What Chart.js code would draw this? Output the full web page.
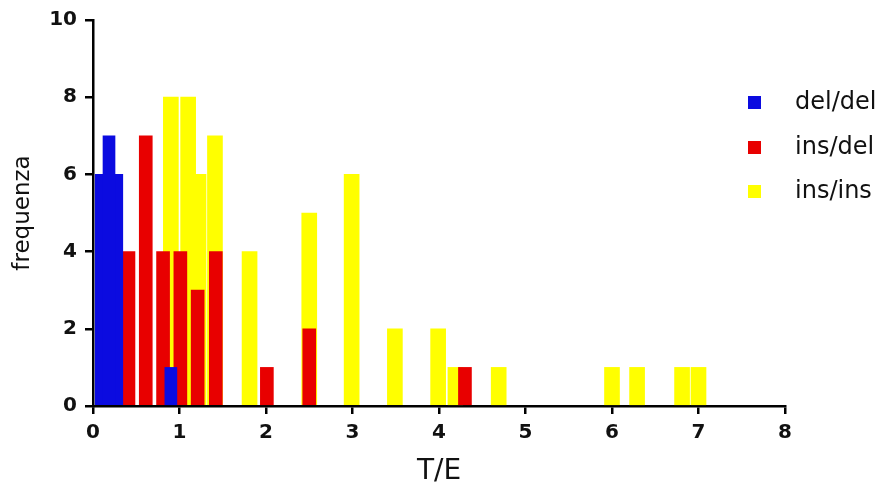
<!DOCTYPE html>
<html>
<head>
<meta charset="utf-8">
<script src="https://cdn.jsdelivr.net/npm/chart.js@4.4.1/dist/chart.umd.min.js"></script>
<style>
  html, body { margin: 0; padding: 0; background: #ffffff; }
  #c { display: block; }
</style>
</head>
<body>
<canvas id="c" width="883" height="490"></canvas>
<script>
// ---- data (T/E position -> frequenza) ----
const seriesNames = ['del/del', 'ins/del', 'ins/ins'];

const delDelX = [0.095, 0.275, 0.185, 0.9];
const delDelY = [6, 6, 7, 1];

const insDelX = [0.41, 0.61, 0.81, 1.01, 1.21, 1.42, 2.01, 2.5, 4.3];
const insDelY = [4, 7, 4, 4, 3, 4, 1, 2, 1];

const insInsX = [0.9, 1.1, 1.22, 1.41, 1.81, 2.5, 2.99, 3.49, 3.99, 4.19, 4.69, 6.0, 6.29, 6.81, 7.0];
const insInsY = [8, 8, 6, 7, 4, 5, 6, 2, 2, 1, 1, 1, 1, 1, 1];

const xTicks = [0, 1, 2, 3, 4, 5, 6, 7, 8];
const yTicks = [0, 2, 4, 6, 8, 10];

const BLUE = '#0b0be0';
const RED = '#e80000';
const YELLOW = '#ffff00';

function pts(xs, ys) { return xs.map((x, i) => ({ x: x, y: ys[i] })); }

const legendPlugin = {
  id: 'customLegend',
  afterDraw(chart) {
    const ctx = chart.ctx;
    const rows = [103, 148, 192];
    ctx.save();
    chart.data.datasets.forEach((ds, i) => {
      ctx.fillStyle = ds.backgroundColor;
      ctx.fillRect(748, rows[i] - 7, 13, 13);
      ctx.fillStyle = '#111111';
      ctx.font = '24px "DejaVu Sans"';
      ctx.textBaseline = 'middle';
      ctx.textAlign = 'left';
      ctx.fillText(ds.label, 795, rows[i]);
    });
    ctx.restore();
  }
};

const tickFont = { family: '"DejaVu Sans"', size: 20, weight: 'bold' };

new Chart(document.getElementById('c'), {
  type: 'bar',
  data: {
    datasets: [
      { label: seriesNames[0], data: pts(delDelX, delDelY), backgroundColor: BLUE, barThickness: 12 },
      { label: seriesNames[1], data: pts(insDelX, insDelY), backgroundColor: RED, barThickness: 13 },
      { label: seriesNames[2], data: pts(insInsX, insInsY), backgroundColor: YELLOW, barThickness: 15 }
    ]
  },
  options: {
    responsive: false,
    animation: false,
    datasets: { bar: { grouped: false, borderWidth: 0 } },
    layout: { padding: { top: 18, right: 98, left: 0, bottom: 0 } },
    plugins: { legend: { display: false }, tooltip: { enabled: false } },
    scales: {
      x: {
        type: 'linear',
        min: 0, max: 8,
        offset: false,
        afterBuildTicks(s) { s.ticks = xTicks.map(v => ({ value: v })); },
        ticks: { color: '#111111', font: tickFont, padding: 7, maxRotation: 0, autoSkip: false },
        grid: { offset: false, drawOnChartArea: false, drawTicks: true, tickLength: 8, color: '#000', lineWidth: 2.5 },
        border: { color: '#000', width: 2.5 },
        title: { display: true, text: 'T/E', color: '#111111', font: { family: '"DejaVu Sans"', size: 28 }, padding: { top: 0, bottom: 1 } },
        afterFit(s) { s.height = 84; }
      },
      y: {
        type: 'linear',
        min: 0, max: 10,
        afterBuildTicks(s) { s.ticks = yTicks.map(v => ({ value: v })); },
        ticks: { color: '#111111', font: tickFont, padding: 8 },
        grid: { drawOnChartArea: false, drawTicks: true, tickLength: 8, color: '#000', lineWidth: 2.5 },
        border: { color: '#000', width: 2.5 },
        title: { display: true, text: 'frequenza', color: '#111111', font: { family: '"DejaVu Sans"', size: 23 }, padding: { top: 9, bottom: 0 } },
        afterFit(s) { s.width = 93; }
      }
    }
  },
  plugins: [legendPlugin]
});
</script>
</body>
</html>
